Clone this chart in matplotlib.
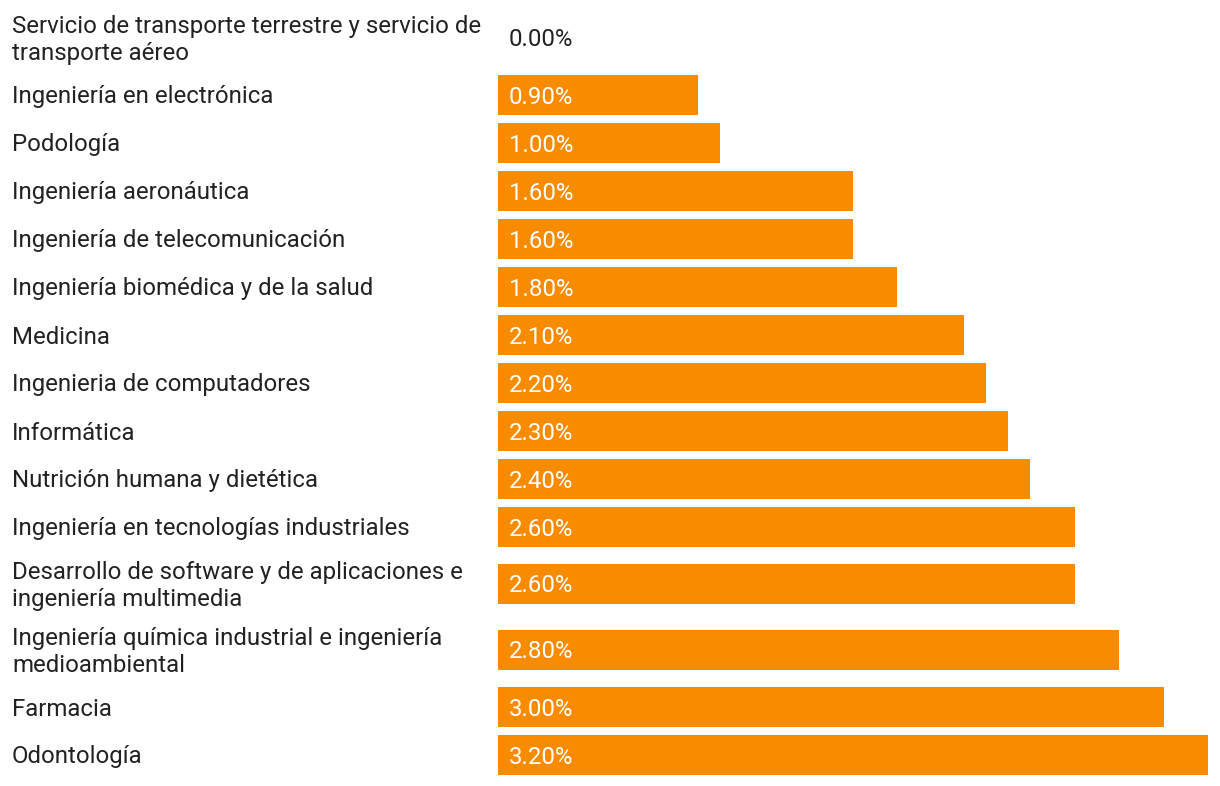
import matplotlib
matplotlib.use("Agg")
import matplotlib.pyplot as plt
import matplotlib.transforms as mtransforms

# data, top to bottom as shown
carreras = [
    "Servicio de transporte terrestre y servicio de\ntransporte aéreo",
    "Ingeniería en electrónica",
    "Podología",
    "Ingeniería aeronáutica",
    "Ingeniería de telecomunicación",
    "Ingeniería biomédica y de la salud",
    "Medicina",
    "Ingenieria de computadores",
    "Informática",
    "Nutrición humana y dietética",
    "Ingeniería en tecnologías industriales",
    "Desarrollo de software y de aplicaciones e\ningeniería multimedia",
    "Ingeniería química industrial e ingeniería\nmedioambiental",
    "Farmacia",
    "Odontología",
]
valores = [0.0, 0.9, 1.0, 1.6, 1.6, 1.8, 2.1, 2.2, 2.3, 2.4, 2.6, 2.6, 2.8, 3.0, 3.2]
etiquetas = ["%.2f%%" % v for v in valores]

W, H = 1220, 786
naranja = "#F98B00"
texto = "#222222"

plt.rcParams['font.family'] = ['Roboto', 'DejaVu Sans']

fig = plt.figure(figsize=(W / 100, H / 100), dpi=100)
ax = fig.add_axes([498 / W, 0, 710 / W, 1])
ax.set_xlim(0, 3.2)
ax.set_ylim(H, 0)  # y in pixels, top down
ax.axis("off")

# row centres: 48px per row, extra room next to two-line labels
lineas = [c.count("\n") for c in carreras]
ys = [38]
for i in range(1, len(carreras)):
    ys.append(ys[-1] + 48 + 9 * (lineas[i - 1] + lineas[i]))

ax.barh(ys, valores, height=40, color=naranja, linewidth=0)

tr_lab = mtransforms.blended_transform_factory(fig.transFigure, ax.transData)
for y, c, v, e in zip(ys, carreras, valores, etiquetas):
    fig.text(12 / W, y + 2, c, transform=tr_lab, ha="left", va="center",
             fontsize=17.25, color=texto, linespacing=1.2)
    fig.text(509 / W, y + 2, e, transform=tr_lab, ha="left", va="center",
             fontsize=17.25, color="white" if v > 0 else texto)

fig.savefig("out.png", dpi=100)
